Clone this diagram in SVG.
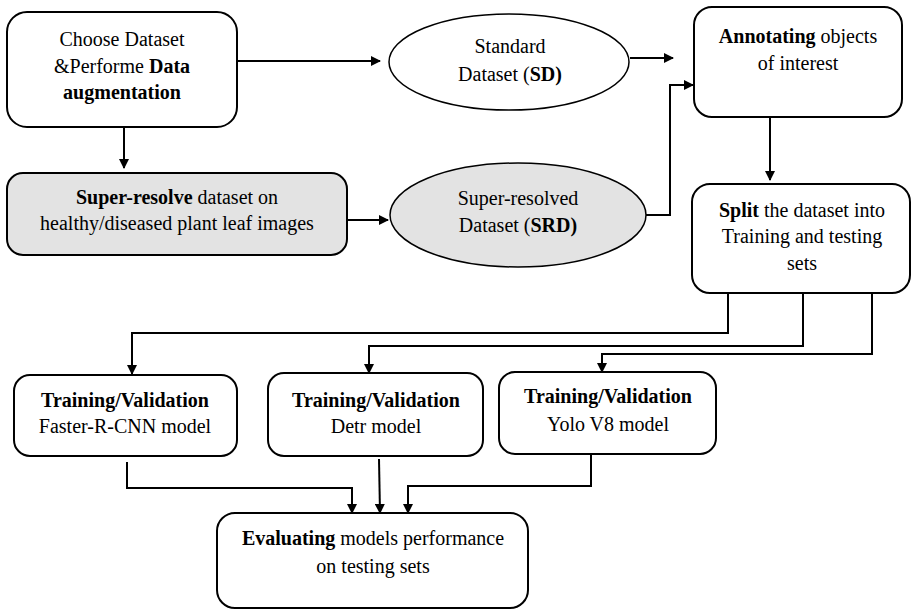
<svg xmlns="http://www.w3.org/2000/svg" width="911" height="609" viewBox="0 0 911 609">
<defs>
<marker id="ah" markerWidth="10" markerHeight="10" refX="9" refY="5" orient="auto" markerUnits="userSpaceOnUse">
<path d="M0,0 L10,5 L0,10 Z" fill="#000"/>
</marker>
<style>
.box{fill:#fff;stroke:#000;stroke-width:2}
.gray{fill:#e3e3e3;stroke:#000;stroke-width:2}
.ell{fill:#fff;stroke:#000;stroke-width:1.5}
.ellg{fill:#e3e3e3;stroke:#000;stroke-width:1.5}
text{font-family:"Liberation Serif","Times New Roman",serif;font-size:20px;fill:#000;text-anchor:middle}
.b{font-weight:bold}
.c{fill:none;stroke:#000;stroke-width:2;marker-end:url(#ah)}
</style>
</defs>
<rect width="911" height="609" fill="#fff"/>
<g id="n-choose">
<rect class="box" x="7" y="12" width="230" height="115" rx="20"/>
<text x="122" y="46">Choose Dataset</text>
<text x="122" y="73">&amp;Performe <tspan class="b">Data</tspan></text>
<text x="122" y="99" class="b">augmentation</text>
</g>
<g id="n-sd">
<ellipse class="ell" cx="509" cy="62" rx="120" ry="48"/>
<text x="510" y="53">Standard</text>
<text x="510" y="81">Dataset (<tspan class="b">SD)</tspan></text>
</g>
<g id="n-annot">
<rect class="box" x="694" y="7" width="208" height="110" rx="18"/>
<text x="798" y="43"><tspan class="b">Annotating</tspan> objects</text>
<text x="798" y="70">of interest</text>
</g>
<g id="n-super">
<rect class="gray" x="7" y="173" width="340" height="82" rx="16"/>
<text x="177" y="204"><tspan class="b">Super-resolve</tspan> dataset on</text>
<text x="177" y="230">healthy/diseased plant leaf images</text>
</g>
<g id="n-srd">
<ellipse class="ellg" cx="518" cy="215" rx="128" ry="52"/>
<text x="518" y="205">Super-resolved</text>
<text x="518" y="232">Dataset (<tspan class="b">SRD)</tspan></text>
</g>
<g id="n-split">
<rect class="box" x="692" y="184" width="218" height="109" rx="18"/>
<text x="802" y="217"><tspan class="b">Split</tspan> the dataset into</text>
<text x="802" y="243">Training and testing</text>
<text x="802" y="270">sets</text>
</g>
<g id="n-faster">
<rect class="box" x="14" y="375" width="223" height="81" rx="16"/>
<text x="125" y="407" class="b">Training/Validation</text>
<text x="125" y="433">Faster-R-CNN model</text>
</g>
<g id="n-detr">
<rect class="box" x="268" y="373" width="215" height="83" rx="16"/>
<text x="376" y="407" class="b">Training/Validation</text>
<text x="376" y="433">Detr model</text>
</g>
<g id="n-yolo">
<rect class="box" x="499" y="372" width="217" height="82" rx="16"/>
<text x="608" y="403" class="b">Training/Validation</text>
<text x="608" y="431">Yolo V8 model</text>
</g>
<g id="n-eval">
<rect class="box" x="217" y="513" width="311" height="95" rx="18"/>
<text x="373" y="545"><tspan class="b">Evaluating</tspan> models performance</text>
<text x="373" y="573">on testing sets</text>
</g>
<g id="connectors">
<path class="c" d="M237,61 H380"/>
<path class="c" d="M630,58 H673"/>
<path class="c" d="M124,127 V168"/>
<path class="c" d="M347,220 H388"/>
<path class="c" d="M646,215 H670 V85 H693"/>
<path class="c" d="M770,117 V180"/>
<path class="c" d="M728,293 V333 H132 V374"/>
<path class="c" d="M803,293 V346 H369 V373"/>
<path class="c" d="M872,293 V354 H602 V372"/>
<path class="c" d="M127,462 V488 H352 V513"/>
<path class="c" d="M379,459 L380,513"/>
<path class="c" d="M591,454 V486 H408 V513"/>
</g>
</svg>
